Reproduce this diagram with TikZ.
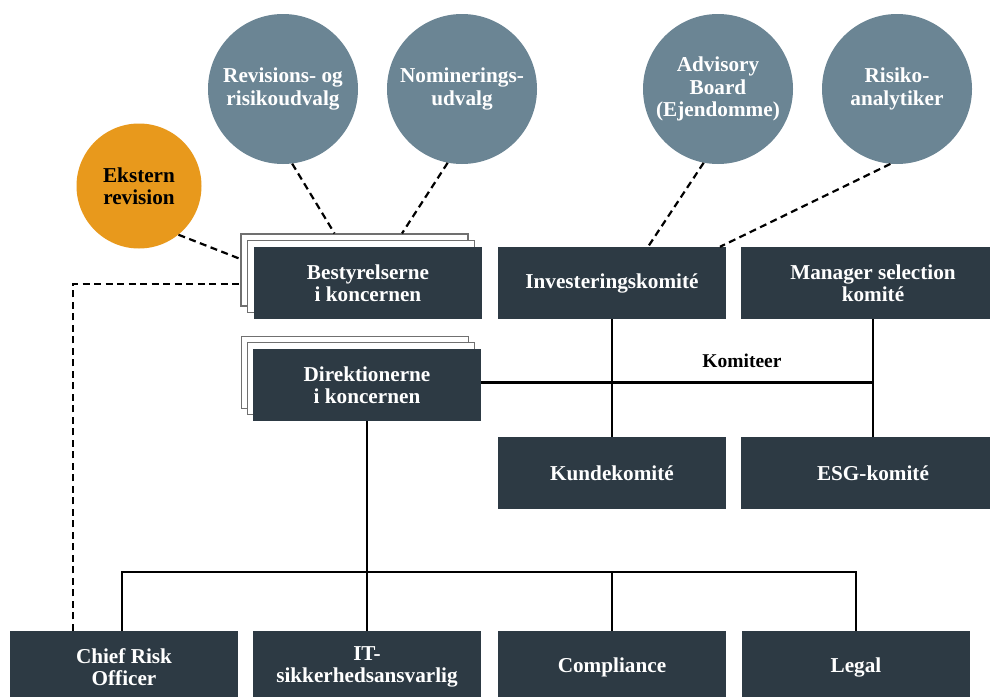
\documentclass[tikz,border=0pt]{standalone}
\usepackage{fontspec}
\setmainfont{Liberation Serif}
\usetikzlibrary{calc}
\definecolor{boxc}{HTML}{2D3A44}
\definecolor{circc}{HTML}{6B8594}
\definecolor{orangec}{HTML}{E8991C}
\definecolor{paperc}{HTML}{707070}
\tikzset{
  lbl/.style={font=\bfseries\fontsize{21.2}{22.5}\selectfont, align=center, inner sep=0pt},
  darkbox/.style={lbl, rectangle, fill=boxc, text=white, minimum width=228pt, minimum height=72pt},
  widebox/.style={darkbox, minimum width=264pt},
  paper/.style={rectangle, draw=paperc, fill=white, line width=1.2pt, minimum width=227pt, minimum height=72pt, inner sep=0pt},
  bub/.style={lbl, circle, fill=circc, text=white, minimum size=150pt},
  extc/.style={lbl, circle, fill=orangec, text=black, minimum size=125pt},
  link/.style={line width=2.2pt, black},
  dlink/.style={line width=2.2pt, black, dash pattern=on 7pt off 4.5pt},
}
\begin{document}
\begin{tikzpicture}[x=1pt,y=-1pt]
\fill[white] (0,0) rectangle (990,696);
\useasboundingbox (0,0) rectangle (990,696);

% circles
\node[bub] (rev) at (283,89) {Revisions- og\\risikoudvalg};
\node[bub] (nom) at (462,89) {Nominerings-\\udvalg};
\node[bub] (adv) at (718,89) {Advisory\\Board\\(Ejendomme)};
\node[bub] (risk) at (897,89) {Risiko-\\analytiker};
\node[extc] (ext) at (139,186) {Ekstern\\revision};

% stacked boards
\node[paper] (bestA) at (354.5,270) {};
\node[paper] (bestB) at (361,276.5) {};
\node[darkbox] (best) at (368,283) {Bestyrelserne\\i koncernen};

\node[paper] (dirA) at (355,372.5) {};
\node[paper] (dirB) at (361,378.5) {};
\node[darkbox] (dir) at (367,385) {Direktionerne\\i koncernen};

% committees
\node[darkbox] (inv) at (612,283) {Investeringskomité};
\node[widebox] (msel) at (873,283) {Manager selection\\komité};
\node[darkbox] (kunde) at (612,473) {Kundekomité};
\node[widebox] (esg) at (873,473) {ESG-komité};
\node[font=\bfseries\fontsize{19.5}{19.5}\selectfont, inner sep=0pt] (kom) at (742,361) {Komiteer};

% bottom row
\node[darkbox] (cro) at (124,667) {Chief Risk\\Officer};
\node[darkbox] (it) at (367,667) {IT-\\sikkerhedsansvarlig};
\node[darkbox] (comp) at (612,667) {Compliance};
\node[darkbox] (legal) at (856,667) {Legal};

% solid connectors
\draw[link] (inv.south) -- (kunde.north);
\draw[link] (msel.south) -- (esg.north);
\draw[link] (dir.east |- 0,382.5) -- (msel.south |- 0,382.5);
\coordinate (bus) at (0,572);
\draw[link] (dir.south) -- (it.north);
\draw[link] ([xshift=-2pt]cro.north) -- ([xshift=-2pt]cro.north |- bus) -| (legal.north);
\draw[link] (comp.north) -- (comp.north |- bus);

% dashed connectors
\draw[dlink] (rev.-83) -- ([xshift=-20pt]bestA.north);
\draw[dlink] (nom.-101) -- ([xshift=47.5pt]bestA.north);
\draw[dlink] (ext.-51) -- ([yshift=11pt]bestA.west);
\draw[dlink] ([xshift=-51pt]cro.north) |- ([yshift=-14pt]bestA.west);
\draw[dlink] (adv.-101) -- ([xshift=36pt]inv.north);
\draw[dlink] (risk.-95) -- ([xshift=108pt]inv.north);
\end{tikzpicture}
\end{document}
